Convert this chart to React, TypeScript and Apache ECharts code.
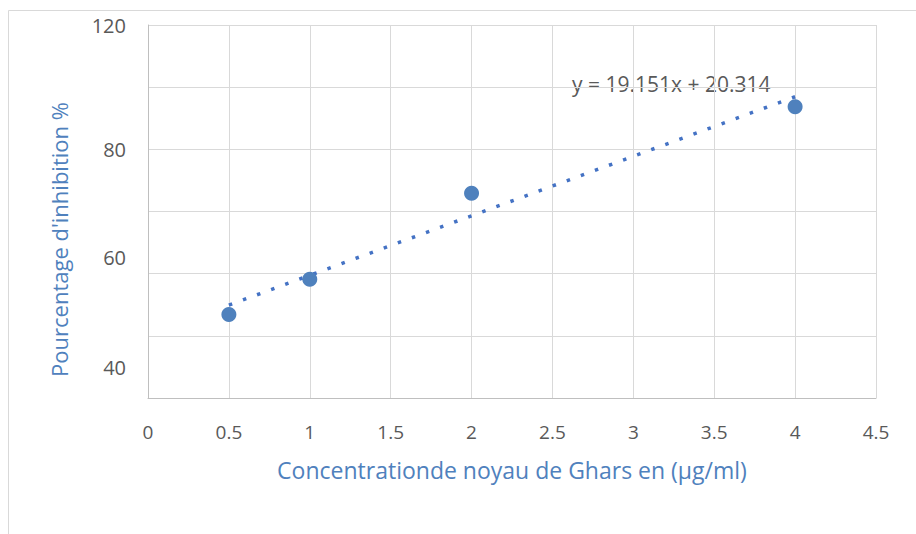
import React, { useEffect, useRef } from "react";
import * as echarts from "echarts";

const concentrations = [0.5, 1, 2, 4];
const inhibition = [26.9, 38.2, 65.9, 93.7];
const trendSlope = 19.151;
const trendIntercept = 20.314;
const trendRange = [0.5, 4];
const yLabelsUpper = [120, 80];
const yLabelsLower = [60, 40];
const xTitle = "Concentrationde noyau de Ghars en (µg/ml)";
const yTitle = "Pourcentage d'inhibition %";
const equationText = "y = 19.151x + 20.314";

const FONT = "'Open Sans', 'Noto Sans', sans-serif";
const GREY = "#595959";
const BLUE = "#4f81bd";

export default function App() {
  const ref = useRef<HTMLDivElement>(null);
  useEffect(() => {
    if (!ref.current) return;
    const chart = echarts.init(ref.current, undefined, { renderer: "svg" });
    const trend = trendRange.map((x) => [x, trendSlope * x + trendIntercept]);
    chart.setOption({
      animation: false,
      backgroundColor: "#ffffff",
      textStyle: { fontFamily: FONT },
      grid: { left: 148, right: 40, top: 25, bottom: 136 },
      graphic: [
        {
          type: "rect",
          shape: { x: 8.5, y: 10.5, width: 1000, height: 600 },
          style: { fill: "none", stroke: "#d9d9d9", lineWidth: 1 },
          silent: true,
        },
        {
          type: "text",
          left: 572,
          top: 73,
          style: { text: equationText, fill: GREY, font: `21px ${FONT}` },
        },
      ],
      xAxis: {
        type: "value",
        min: 0,
        max: 4.5,
        interval: 0.5,
        name: xTitle,
        nameLocation: "middle",
        nameGap: 60,
        nameTextStyle: { color: BLUE, fontSize: 23, fontFamily: FONT },
        axisLine: { show: true, lineStyle: { color: "#bfbfbf", width: 1 } },
        axisTick: { show: false },
        axisLabel: { color: GREY, fontSize: 19, margin: 24, fontFamily: FONT },
        splitLine: { show: true, lineStyle: { color: "#d9d9d9", width: 1 } },
      },
      yAxis: [
        {
          type: "value",
          min: 0,
          max: 120,
          interval: 20,
          position: "left",
          name: yTitle,
          nameLocation: "middle",
          nameRotate: 90,
          nameGap: 78,
          nameTextStyle: {
            color: BLUE,
            fontSize: 22,
            fontFamily: FONT,
            padding: [0, 56, 0, 0],
          },
          axisLine: { show: true, lineStyle: { color: "#bfbfbf", width: 1 } },
          axisTick: { show: false },
          axisLabel: {
            color: GREY,
            fontSize: 20,
            margin: 22,
            fontFamily: FONT,
            customValues: yLabelsUpper,
          },
          splitLine: { show: true, lineStyle: { color: "#d9d9d9", width: 1 } },
        },
        {
          type: "value",
          min: 34.4,
          max: 102.2,
          position: "left",
          axisLine: { show: false },
          axisTick: { show: false },
          splitLine: { show: false },
          axisLabel: {
            color: GREY,
            fontSize: 20,
            margin: 22,
            fontFamily: FONT,
            customValues: yLabelsLower,
          },
        },
      ],
      series: [
        {
          type: "line",
          data: trend,
          showSymbol: false,
          symbol: "none",
          lineStyle: { color: "#4472c4", width: 3.5, type: [3.5, 11.5], cap: "butt" },
          z: 2,
        },
        {
          type: "scatter",
          data: concentrations.map((x, i) => [x, inhibition[i]]),
          symbol: "circle",
          symbolSize: 15,
          itemStyle: { color: BLUE, opacity: 1 },
          z: 3,
        },
      ],
    });
    return () => chart.dispose();
  }, []);
  return (
    <div
      ref={ref}
      style={{ position: "fixed", left: 0, top: 0, width: 916, height: 534 }}
    />
  );
}
